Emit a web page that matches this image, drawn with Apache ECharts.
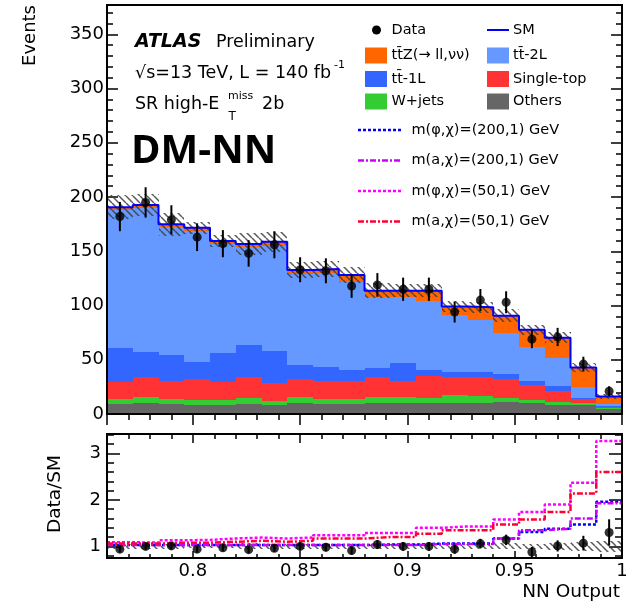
<!DOCTYPE html>
<html>
<head>
<meta charset="utf-8">
<script src="https://cdn.jsdelivr.net/npm/echarts@6/dist/echarts.min.js"></script>
<style>
  html, body { margin: 0; padding: 0; background: #fff; }
  #chart { width: 628px; height: 603px; }
</style>
</head>
<body>
<div id="chart"></div>
<script>
// NN output bin edges (20 bins)
const binEdges = [0.76, 0.772, 0.784, 0.796, 0.808, 0.82, 0.832, 0.844, 0.856, 0.868, 0.88,
                  0.892, 0.904, 0.916, 0.928, 0.94, 0.952, 0.964, 0.976, 0.988, 1.0];

// Background predictions per bin (events)
const others    = [8.9, 9.8, 8.9, 8.3, 8.3, 8.9, 8.3, 9.8, 9.0, 8.9, 10.4, 9.8, 9.8, 9.8, 9.8, 10.8, 10.0, 8.5, 8.0, 4.3];
const wJets     = [4.9, 5.6, 5.2, 4.6, 4.3, 5.5, 4.0, 5.6, 4.5, 4.9, 5.6, 5.6, 4.6, 7.7, 6.8, 4.2, 3.0, 3.0, 1.8, 0.9];
const singleTop = [16.0, 18.4, 16.3, 19.4, 17.2, 20.0, 16.0, 16.6, 16.9, 16.6, 18.4, 15.3, 20.6, 16.3, 17.8, 17.5, 13.7, 9.8, 4.0, 1.5];
const ttbar1L   = [31.3, 23.0, 24.0, 15.9, 26.1, 29.2, 30.1, 13.2, 12.6, 10.2, 7.7, 16.6, 5.6, 4.6, 4.0, 4.5, 3.8, 4.5, 0.8, 0.7];
const ttbar2L   = [127.4, 133.3, 117.9, 120.5, 100.5, 90.6, 96.7, 83.5, 86.6, 81.5, 65.4, 60.2, 63.9, 52.8, 48.4, 37.4, 30.8, 26.1, 10.1, 1.7];
const ttZ       = [2.0, 2.5, 2.5, 3.0, 3.0, 2.5, 3.7, 4.0, 4.0, 6.0, 6.2, 6.2, 9.2, 7.8, 11.7, 16.2, 16.3, 18.4, 18.1, 7.1];
// Total background uncertainty (events)
const bkgUnc    = [11.0, 10.0, 10.5, 5.5, 5.5, 9.8, 9.2, 7.7, 7.7, 7.0, 6.7, 6.0, 6.0, 5.4, 5.0, 5.9, 4.4, 5.0, 4.0, 2.0];

// Observed data
const dataCounts = [182, 195, 179, 163, 157, 148, 156, 133, 132, 118, 119, 115, 115, 94, 105, 103, 69, 71, 46, 21];
const dataErr    = [13.5, 14.0, 13.4, 12.8, 12.5, 12.2, 12.5, 11.5, 11.5, 10.9, 10.9, 10.7, 10.7, 9.7, 10.2, 10.1, 8.3, 8.4, 6.8, 4.6];

// Data / SM
const ratioData = [0.94, 1.0, 1.01, 0.94, 0.97, 0.93, 0.96, 1.0, 0.98, 0.91, 1.04, 1.0, 1.0, 0.94, 1.06, 1.14, 0.88, 1.01, 1.07, 1.30];
const ratioErr  = [0.071, 0.072, 0.077, 0.074, 0.079, 0.078, 0.079, 0.087, 0.086, 0.085, 0.096, 0.094, 0.094, 0.098, 0.104, 0.112, 0.107, 0.120, 0.158, 0.283];

// (SM + signal) / SM for the benchmark signals
const sigPhi200 = [1.03, 1.03, 1.03, 1.03, 1.03, 1.03, 1.03, 1.03, 1.03, 1.03, 1.04, 1.04, 1.06, 1.06, 1.06, 1.17, 1.31, 1.38, 1.47, 1.96];
const sigA200   = [1.03, 1.03, 1.03, 1.03, 1.03, 1.03, 1.03, 1.03, 1.03, 1.03, 1.03, 1.03, 1.05, 1.05, 1.05, 1.17, 1.35, 1.38, 1.60, 1.93];
const sigPhi50  = [1.09, 1.08, 1.13, 1.14, 1.17, 1.19, 1.17, 1.19, 1.24, 1.24, 1.29, 1.29, 1.40, 1.43, 1.43, 1.58, 1.74, 1.90, 2.37, 3.27];
const sigA50    = [1.06, 1.06, 1.08, 1.08, 1.10, 1.12, 1.10, 1.12, 1.17, 1.17, 1.20, 1.20, 1.27, 1.35, 1.35, 1.47, 1.58, 1.74, 2.14, 2.60];

const FONT = '"DejaVu Sans", sans-serif';
const COL = {
  ttZ: '#ff6600', tt2L: '#6699ff', tt1L: '#3366ff', st: '#ff3333', wj: '#33cc33', oth: '#666666',
  sm: '#0000ff', phi200: '#0000ff', a200: '#cc00ff', phi50: '#ff00ff', a50: '#ff0033'
};
const DOT = [3, 2];
const DASHDOT = [6, 2, 2, 2];

// cumulative stack boundaries
const layers = [others, wJets, singleTop, ttbar1L, ttbar2L, ttZ];
const cum = [new Array(20).fill(0)];
layers.forEach((arr, k) => cum.push(arr.map((v, i) => cum[k][i] + v)));
const total = cum[cum.length - 1];

// diagonal hatch pattern for the uncertainty band
function makeHatch(color, step, lw) {
  const c = document.createElement('canvas');
  c.width = step; c.height = step;
  const g = c.getContext('2d');
  g.strokeStyle = color; g.lineWidth = lw;
  g.beginPath();
  for (const o of [-step, 0, step]) { g.moveTo(o, 0); g.lineTo(o + step, step); }
  g.stroke();
  return c;
}
const hatch = { image: makeHatch('rgba(60,60,60,0.85)', 7, 1.5), repeat: 'repeat' };

function binRects(lo, hi, fill, axis, z) {
  return {
    type: 'custom', xAxisIndex: axis, yAxisIndex: axis, z: z, silent: true, clip: true,
    data: lo.map((l, i) => [binEdges[i], binEdges[i + 1], l, hi[i]]),
    encode: { x: [0, 1], y: [2, 3] },
    renderItem(params, api) {
      const a = api.coord([api.value(0), api.value(3)]);
      const b = api.coord([api.value(1), api.value(2)]);
      const x0 = Math.round(a[0]), x1 = Math.round(b[0]);
      const y0 = Math.round(a[1]), y1 = Math.round(b[1]);
      return { type: 'rect', shape: { x: x0, y: y0, width: x1 - x0, height: y1 - y0 }, style: { fill: fill } };
    }
  };
}

function stepLine(values, color, width, dash, axis, z) {
  return {
    type: 'line', xAxisIndex: axis, yAxisIndex: axis, z: z, silent: true, clip: true,
    step: 'end', showSymbol: false, symbol: 'none',
    data: binEdges.map((e, i) => [e, values[Math.min(i, values.length - 1)]]),
    lineStyle: { color: color, width: width, type: dash }
  };
}

function errBars(centers, vals, errs, axis, z) {
  return {
    type: 'custom', xAxisIndex: axis, yAxisIndex: axis, z: z, silent: true, clip: true,
    data: vals.map((v, i) => [centers[i], v - errs[i], v + errs[i]]),
    encode: { x: 0, y: [1, 2] },
    renderItem(params, api) {
      const a = api.coord([api.value(0), api.value(1)]);
      const b = api.coord([api.value(0), api.value(2)]);
      return { type: 'line', shape: { x1: a[0], y1: a[1], x2: b[0], y2: b[1] }, style: { stroke: '#000', lineWidth: 2 } };
    }
  };
}

const centers = binEdges.slice(0, 20).map((e, i) => (e + binEdges[i + 1]) / 2);

function xAxis(grid, pos, showLabel, majorLen, minorLen) {
  return {
    type: 'value', gridIndex: grid, position: pos, min: 0.76, max: 1.0, splitNumber: 5,
    axisLine: { show: false }, splitLine: { show: false },
    axisTick: { show: true, inside: true, length: majorLen, lineStyle: { color: '#000', width: 1.5 } },
    minorTick: { show: true, splitNumber: 5, length: minorLen, lineStyle: { color: '#000', width: 1.5 } },
    axisLabel: {
      show: showLabel, margin: 4, color: '#000', fontFamily: FONT, fontSize: 18,
      showMinLabel: false, showMaxLabel: true
    }
  };
}
function yAxis(grid, pos, showLabel, min, max, splitNumber, majorLen, minorLen, margin, fmt) {
  return {
    type: 'value', gridIndex: grid, position: pos, min: min, max: max, splitNumber: splitNumber,
    axisLine: { show: false }, splitLine: { show: false },
    axisTick: { show: true, inside: true, length: majorLen, lineStyle: { color: '#000', width: 1.5 } },
    minorTick: { show: true, splitNumber: 5, length: minorLen, lineStyle: { color: '#000', width: 1.5 } },
    axisLabel: {
      show: showLabel, margin: margin, color: '#000', fontFamily: FONT, fontSize: 18,
      formatter: fmt, showMaxLabel: false
    }
  };
}
const intLabel = v => (Math.abs(v - Math.round(v)) < 1e-6 ? String(Math.round(v)) : '');

const series = [];
// top panel: stacked backgrounds
const stackCols = [COL.oth, COL.wj, COL.st, COL.tt1L, COL.tt2L, COL.ttZ];
layers.forEach((arr, k) => series.push(binRects(cum[k], cum[k + 1], stackCols[k], 0, 2)));
series.push(binRects(total.map((t, i) => t - bkgUnc[i]), total.map((t, i) => t + bkgUnc[i]), hatch, 0, 3));
series.push(stepLine(total, COL.sm, 2, 'solid', 0, 4));
series.push(errBars(centers, dataCounts, dataErr, 0, 5));
series.push({
  type: 'scatter', xAxisIndex: 0, yAxisIndex: 0, z: 6, silent: true, symbol: 'circle', symbolSize: 9,
  itemStyle: { color: '#000' }, data: dataCounts.map((v, i) => [centers[i], v])
});

// bottom panel: ratio
const relUnc = bkgUnc.map((u, i) => u / total[i]);
series.push(binRects(relUnc.map(r => 1 - r), relUnc.map(r => 1 + r), hatch, 2, 3));
series.push(stepLine(sigPhi200, COL.phi200, 2.5, DOT, 2, 4));
series.push(stepLine(sigA200, COL.a200, 2.5, DASHDOT, 2, 4));
series.push(stepLine(sigPhi50, COL.phi50, 2.5, DOT, 2, 4));
series.push(stepLine(sigA50, COL.a50, 2.5, DASHDOT, 2, 4));
series.push(errBars(centers, ratioData, ratioErr, 2, 5));
series.push({
  type: 'scatter', xAxisIndex: 2, yAxisIndex: 2, z: 6, silent: true, symbol: 'circle', symbolSize: 9,
  itemStyle: { color: '#000' }, data: ratioData.map((v, i) => [centers[i], v])
});

// annotations and legend
function txt(x, y, text, size, extra) {
  return Object.assign({
    type: 'text', x: x, y: y, silent: true, z: 100,
    style: { text: text, fill: '#000', fontFamily: FONT, fontSize: size, align: 'left', verticalAlign: 'middle' }
  }, extra || {});
}
const legendLeft = [['Data', null], ['tt\u0304Z(\u2192 ll,\u03bd\u03bd)', COL.ttZ], ['tt\u0304-1L', COL.tt1L], ['W+jets', COL.wj]];
const legendRight = [['SM', null], ['tt\u0304-2L', COL.tt2L], ['Single-top', COL.st], ['Others', COL.oth]];
const legendSig = [
  ['m(\u03c6,\u03c7)=(200,1) GeV', COL.phi200, DOT],
  ['m(a,\u03c7)=(200,1) GeV', COL.a200, DASHDOT],
  ['m(\u03c6,\u03c7)=(50,1) GeV', COL.phi50, DOT],
  ['m(a,\u03c7)=(50,1) GeV', COL.a50, DASHDOT]
];
const rowsY = [30, 55.5, 79, 101.5];
const sigRowsY = [130, 160.5, 191, 221.5];
const LFS = 14.5;
const graphics = [];
rowsY.forEach((y, r) => {
  const [lt, lc] = legendLeft[r];
  const [rt, rc] = legendRight[r];
  if (lc) graphics.push({ type: 'rect', silent: true, z: 100, shape: { x: 365, y: y - 8, width: 22, height: 16 }, style: { fill: lc } });
  else graphics.push({ type: 'circle', silent: true, z: 100, shape: { cx: 376.5, cy: y, r: 4.5 }, style: { fill: '#000' } });
  graphics.push(txt(391.5, y, lt, LFS));
  if (rc) graphics.push({ type: 'rect', silent: true, z: 100, shape: { x: 487, y: y - 8, width: 22, height: 16 }, style: { fill: rc } });
  else graphics.push({ type: 'line', silent: true, z: 100, shape: { x1: 487, y1: y, x2: 509, y2: y }, style: { stroke: COL.sm, lineWidth: 2 } });
  graphics.push(txt(513, y, rt, LFS));
});
sigRowsY.forEach((y, r) => {
  const [t, c, d] = legendSig[r];
  graphics.push({ type: 'line', silent: true, z: 100, shape: { x1: 358, y1: y, x2: 402, y2: y }, style: { stroke: c, lineWidth: 2.5, lineDash: d } });
  graphics.push(txt(411.5, y, t, LFS));
});

graphics.push(txt(135, 42, 'ATLAS', 19, { style: { text: 'ATLAS', fill: '#000', fontFamily: FONT, fontSize: 19, fontWeight: 'bold', fontStyle: 'italic', align: 'left', verticalAlign: 'middle' } }));
graphics.push(txt(216, 42, 'Preliminary', 17.5));
graphics.push(txt(135, 73, '\u221as=13 TeV, L = 140 fb', 17.5));
graphics.push(txt(334, 65, '-1', 11));
graphics.push(txt(135, 104, 'SR high-E', 17.5));
graphics.push(txt(228, 96, 'miss', 11));
graphics.push(txt(228.5, 117, 'T', 12));
graphics.push(txt(262, 104, '2b', 17.5));
graphics.push(txt(131, 152, 'DM-NN', 40, { style: { text: 'DM-NN', fill: '#000', fontFamily: '"Open Sans", sans-serif', fontSize: 40, fontWeight: 'bold', align: 'left', verticalAlign: 'middle' } }));

graphics.push(txt(30, 5, 'Events', 18, { rotation: Math.PI / 2, style: { text: 'Events', fill: '#000', fontFamily: FONT, fontSize: 18, align: 'right', verticalAlign: 'middle' } }));
graphics.push(txt(55, 494, 'Data/SM', 18.5, { rotation: Math.PI / 2, style: { text: 'Data/SM', fill: '#000', fontFamily: FONT, fontSize: 18.5, align: 'center', verticalAlign: 'middle' } }));
graphics.push(txt(620, 592, 'NN Output', 18.5, { style: { text: 'NN Output', fill: '#000', fontFamily: FONT, fontSize: 18.5, align: 'right', verticalAlign: 'middle' } }));

const option = {
  animation: false,
  backgroundColor: '#fff',
  grid: [
    { left: 107, top: 5, width: 515, height: 409, show: true, borderColor: '#000', borderWidth: 2, backgroundColor: 'transparent', outerBoundsMode: 'none', z: 10 },
    { left: 107, top: 434, width: 515, height: 124, show: true, borderColor: '#000', borderWidth: 2, backgroundColor: 'transparent', outerBoundsMode: 'none', z: 10 }
  ],
  xAxis: [
    xAxis(0, 'bottom', false, 11, 6),
    xAxis(0, 'top', false, 11, 6),
    xAxis(1, 'bottom', true, 7, 4),
    xAxis(1, 'top', false, 9, 5)
  ],
  yAxis: [
    yAxis(0, 'left', true, 0, 377, 8, 11, 6, 3, null),
    yAxis(0, 'right', false, 0, 377, 8, 11, 6, 3, null),
    yAxis(1, 'left', true, 0.75, 3.42, 3, 13, 7, 6, intLabel),
    yAxis(1, 'right', false, 0.75, 3.42, 3, 13, 7, 6, intLabel)
  ],
  series: series,
  graphic: { elements: graphics }
};

const chart = echarts.init(document.getElementById('chart'), null, { renderer: 'canvas' });
chart.setOption(option);
</script>
</body>
</html>
